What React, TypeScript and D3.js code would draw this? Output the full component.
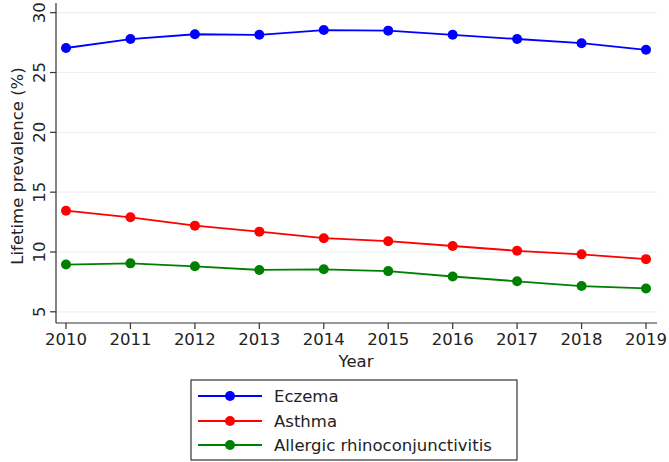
import React from 'react'
import * as d3 from 'd3'

const years = [2010, 2011, 2012, 2013, 2014, 2015, 2016, 2017, 2018, 2019]
const eczema = [27.05, 27.8, 28.2, 28.15, 28.55, 28.5, 28.15, 27.8, 27.45, 26.9]
const asthma = [13.45, 12.9, 12.2, 11.7, 11.15, 10.9, 10.5, 10.1, 9.8, 9.4]
const rhino = [8.95, 9.05, 8.8, 8.5, 8.55, 8.4, 7.95, 7.55, 7.15, 6.95]
const yTicks = [5, 10, 15, 20, 25, 30]

const series = [
  { name: 'Eczema', values: eczema, color: '#0000ff' },
  { name: 'Asthma', values: asthma, color: '#ff0000' },
  { name: 'Allergic rhinoconjunctivitis', values: rhino, color: '#008000' },
]

const font = 'DejaVu Sans, sans-serif'
const fs = 16.5

export default function App() {
  const W = 669
  const H = 462
  const left = 56
  const right = 657
  const top = 3
  const bottom = 323

  const x = d3.scaleLinear().domain([2010, 2019]).range([66, 646])
  const y = d3.scaleLinear().domain([5, 30]).range([311.8, 12.7])

  const line = d3.line<number>()
    .x((_, i) => x(years[i]))
    .y(d => y(d))

  const legendX = 191
  const legendY = 380
  const legendRows = [396, 421, 445]

  return (
    <svg width={W} height={H} style={{ position: 'absolute', left: 0, top: 0, background: '#fff' }}>
      <rect width={W} height={H} fill="#fff" />
      {/* grid */}
      {yTicks.map(t => (
        <line key={'g' + t} x1={left} x2={right} y1={y(t)} y2={y(t)} stroke="#eaf0f3" strokeWidth={1.2} />
      ))}
      {/* axes */}
      <line x1={left} x2={left} y1={top} y2={bottom} stroke="#333" strokeWidth={1.2} />
      <line x1={left} x2={right} y1={bottom} y2={bottom} stroke="#333" strokeWidth={1.2} />
      {yTicks.map(t => (
        <g key={'y' + t}>
          <line x1={left - 6} x2={left} y1={y(t)} y2={y(t)} stroke="#333" strokeWidth={1.2} />
          <text
            transform={`translate(${left - 11},${y(t)}) rotate(-90)`}
            textAnchor="middle"
            fontFamily={font}
            fontSize={fs}
            fill="#222"
          >
            {t}
          </text>
        </g>
      ))}
      {years.map(yr => (
        <g key={'x' + yr}>
          <line x1={x(yr)} x2={x(yr)} y1={bottom} y2={bottom + 6} stroke="#333" strokeWidth={1.2} />
          <text x={x(yr)} y={bottom + 22} textAnchor="middle" fontFamily={font} fontSize={fs} fill="#222">
            {yr}
          </text>
        </g>
      ))}
      <text x={356} y={367} textAnchor="middle" fontFamily={font} fontSize={fs} fill="#222">Year</text>
      <text
        transform={`translate(23,${(top + bottom) / 2 + 3}) rotate(-90)`}
        textAnchor="middle"
        fontFamily={font}
        fontSize={fs}
        fill="#222"
      >
        Lifetime prevalence (%)
      </text>
      {/* series */}
      {series.map(s => (
        <g key={s.name}>
          <path d={line(s.values) ?? ''} fill="none" stroke={s.color} strokeWidth={1.8} />
          {s.values.map((v, i) => (
            <circle key={i} cx={x(years[i])} cy={y(v)} r={5} fill={s.color} />
          ))}
        </g>
      ))}
      {/* legend */}
      <rect x={legendX} y={legendY} width={326} height={80} fill="#fff" stroke="#333" strokeWidth={1.2} />
      {series.map((s, i) => (
        <g key={'l' + s.name}>
          <line x1={198} x2={262} y1={legendRows[i]} y2={legendRows[i]} stroke={s.color} strokeWidth={1.8} />
          <circle cx={230} cy={legendRows[i]} r={5} fill={s.color} />
          <text x={274} y={legendRows[i] + 6} fontFamily={font} fontSize={fs} fill="#222">{s.name}</text>
        </g>
      ))}
    </svg>
  )
}
